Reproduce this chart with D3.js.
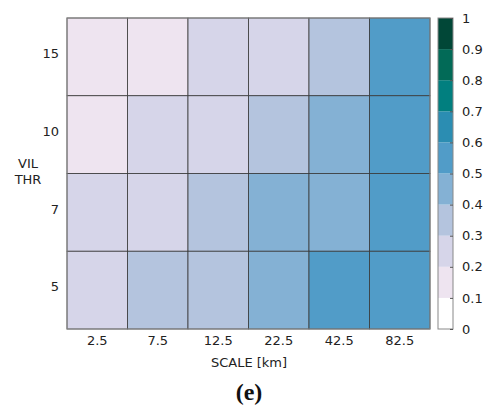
<!DOCTYPE html>
<html>
<head>
<meta charset="utf-8">
<script src="https://cdn.jsdelivr.net/npm/d3@7"></script>
<style>
  body { margin: 0; background: #fff; }
  text { font-family: "DejaVu Sans", sans-serif; }
</style>
</head>
<body>
<svg id="chart" width="484" height="408"></svg>
<script>
// data
var scales = ["2.5", "7.5", "12.5", "22.5", "42.5", "82.5"];
var thresholds = ["15", "10", "7", "5"];
var values = [
  [0.15, 0.15, 0.25, 0.25, 0.35, 0.55],
  [0.15, 0.25, 0.25, 0.35, 0.45, 0.55],
  [0.25, 0.25, 0.35, 0.45, 0.45, 0.55],
  [0.25, 0.35, 0.35, 0.45, 0.55, 0.55]
];
var barTicks = [0, 0.1, 0.2, 0.3, 0.4, 0.5, 0.6, 0.7, 0.8, 0.9, 1];
var binColors = ["#ffffff", "#eee4f0", "#d6d5e9", "#b4c4de", "#84b1d4",
                 "#519cc8", "#2b8db2", "#017f7f", "#026a57", "#014737"];

var svg = d3.select("#chart");
var mLeft = 67, mRight = 430, mTop = 18, mBottom = 329;
var fs = 13;

var x = d3.scaleBand().domain(scales).range([mLeft, mRight]);
var y = d3.scaleBand().domain(thresholds).range([mTop, mBottom]);
var color = d3.scaleQuantize().domain([0, 1]).range(binColors);

var cells = [];
thresholds.forEach(function(t, i) {
  scales.forEach(function(s, j) {
    cells.push({ s: s, t: t, v: values[i][j] });
  });
});

svg.append("g").selectAll("rect")
  .data(cells)
  .enter().append("rect")
  .attr("x", function(d) { return x(d.s); })
  .attr("y", function(d) { return y(d.t); })
  .attr("width", x.bandwidth())
  .attr("height", y.bandwidth())
  .attr("fill", function(d) { return color(d.v); })
  .attr("stroke", "#3a3a3a")
  .attr("stroke-width", 0.8);

svg.append("rect")
  .attr("x", mLeft).attr("y", mTop)
  .attr("width", mRight - mLeft).attr("height", mBottom - mTop)
  .attr("fill", "none").attr("stroke", "#888").attr("stroke-width", 1);

// x axis labels
var xAxis = svg.append("g")
  .attr("transform", "translate(0," + mBottom + ")")
  .call(d3.axisBottom(x).tickSize(0).tickPadding(7));
xAxis.select(".domain").remove();
xAxis.selectAll("text").attr("font-size", fs).attr("fill", "#222")
  .style("font-family", "DejaVu Sans, sans-serif");

// y axis labels
var yAxis = svg.append("g")
  .attr("transform", "translate(" + mLeft + ",-3)")
  .call(d3.axisLeft(y).tickSize(0).tickPadding(8));
yAxis.select(".domain").remove();
yAxis.selectAll("text").attr("font-size", fs).attr("fill", "#222")
  .style("font-family", "DejaVu Sans, sans-serif");

svg.append("text")
  .attr("x", 249).attr("y", 367)
  .attr("text-anchor", "middle").attr("font-size", fs).attr("fill", "#222")
  .text("SCALE [km]");

svg.append("text")
  .attr("x", 28).attr("y", 168)
  .attr("text-anchor", "middle").attr("font-size", fs).attr("fill", "#222")
  .text("VIL");
svg.append("text")
  .attr("x", 28).attr("y", 184)
  .attr("text-anchor", "middle").attr("font-size", fs).attr("fill", "#222")
  .text("THR");

// colorbar
var cbx = 438, cbw = 15;
var cy = d3.scaleLinear().domain([0, 1]).range([mBottom, mTop]);
var bins = d3.range(binColors.length).map(function(i) {
  return { lo: barTicks[i], hi: barTicks[i + 1], c: binColors[i] };
});
svg.append("g").selectAll("rect")
  .data(bins)
  .enter().append("rect")
  .attr("x", cbx)
  .attr("y", function(d) { return cy(d.hi); })
  .attr("width", cbw)
  .attr("height", function(d) { return cy(d.lo) - cy(d.hi); })
  .attr("fill", function(d) { return d.c; });
svg.append("rect")
  .attr("x", cbx).attr("y", mTop)
  .attr("width", cbw).attr("height", mBottom - mTop)
  .attr("fill", "none").attr("stroke", "#888").attr("stroke-width", 1);

var cAxis = svg.append("g")
  .attr("transform", "translate(" + (cbx + cbw) + ",0)")
  .call(d3.axisRight(cy).tickValues(barTicks).tickSize(-3).tickPadding(9)
    .tickFormat(d3.format("~g")));
cAxis.select(".domain").remove();
cAxis.selectAll("line").attr("stroke", "#555");
cAxis.selectAll("text").attr("font-size", fs).attr("fill", "#222")
  .attr("text-anchor", "start")
  .style("font-family", "DejaVu Sans, sans-serif");

// panel label
svg.append("text")
  .attr("x", 249).attr("y", 400)
  .attr("text-anchor", "middle").attr("font-size", 24)
  .style("font-family", "Liberation Serif, serif")
  .attr("font-weight", "bold").attr("fill", "#111")
  .text("(e)");
</script>
</body>
</html>
